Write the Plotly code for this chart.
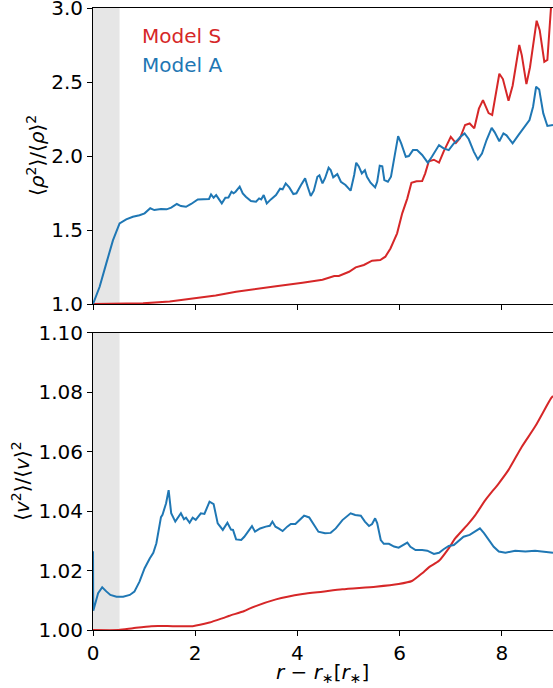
import plotly.graph_objects as go

# ---- density contrast <rho^2>/<rho>^2 ----
rho_s_x = [0, 0.5, 0.98, 1.5, 1.89, 2.4, 2.80, 3.2, 3.58, 4.10, 4.49, 4.72, 4.81, 5.01, 5.14,
           5.30, 5.46, 5.62, 5.72, 5.82, 5.89, 5.95, 6.05, 6.15, 6.23, 6.33, 6.44, 6.50, 6.57,
           6.67, 6.77, 6.86, 7.00, 7.10, 7.18, 7.28, 7.37, 7.46, 7.55, 7.63, 7.74, 7.81, 7.95,
           8.02, 8.13, 8.21, 8.34, 8.39, 8.48, 8.55, 8.68, 8.74, 8.83, 8.89, 8.96, 9.0]
rho_s_y = [1.0, 1.0, 1.005, 1.017, 1.034, 1.058, 1.083, 1.10, 1.12, 1.144, 1.164, 1.189, 1.19,
           1.218, 1.248, 1.264, 1.293, 1.297, 1.32, 1.376, 1.432, 1.478, 1.613, 1.714, 1.82,
           1.83, 1.831, 1.883, 1.965, 1.975, 1.956, 2.03, 2.13, 2.088, 2.12, 2.21, 2.22, 2.187,
           2.32, 2.378, 2.29, 2.277, 2.556, 2.52, 2.374, 2.475, 2.75, 2.68, 2.486, 2.60, 2.914,
           2.85, 2.637, 2.65, 3.0, 3.1]

rho_a_x = [0, 0.13, 0.26, 0.39, 0.52, 0.65, 0.78, 0.91, 1.01, 1.12, 1.20, 1.33, 1.44, 1.53,
           1.64, 1.72, 1.82, 1.92, 2.05, 2.18, 2.27, 2.31, 2.36, 2.41, 2.46, 2.52, 2.59, 2.65,
           2.71, 2.75, 2.79, 2.87, 2.93, 2.99, 3.09, 3.19, 3.25, 3.29, 3.34, 3.40, 3.48, 3.58,
           3.66, 3.71, 3.77, 3.84, 3.92, 3.98, 4.07, 4.15, 4.20, 4.26, 4.32, 4.39, 4.43, 4.49,
           4.54, 4.61, 4.65, 4.70, 4.78, 4.85, 4.94, 5.04, 5.11, 5.15, 5.20, 5.26, 5.32, 5.36,
           5.43, 5.52, 5.56, 5.61, 5.66, 5.70, 5.77, 5.83, 5.91, 5.97, 6.03, 6.12, 6.18, 6.26,
           6.34, 6.44, 6.55, 6.63, 6.77, 6.86, 6.96, 7.06, 7.14, 7.19, 7.27, 7.35, 7.45, 7.53,
           7.61, 7.70, 7.80, 7.86, 7.95, 8.03, 8.09, 8.21, 8.32, 8.46, 8.54, 8.61, 8.67, 8.73,
           8.81, 8.89, 8.97, 9.0]
rho_a_y = [1.0, 1.117, 1.275, 1.43, 1.545, 1.572, 1.59, 1.60, 1.613, 1.647, 1.635, 1.642, 1.64,
           1.651, 1.676, 1.662, 1.657, 1.676, 1.707, 1.707, 1.71, 1.741, 1.718, 1.736, 1.707,
           1.68, 1.718, 1.72, 1.759, 1.748, 1.759, 1.793, 1.748, 1.725, 1.696, 1.691, 1.714,
           1.707, 1.736, 1.68, 1.707, 1.736, 1.779, 1.775, 1.815, 1.788, 1.743, 1.748, 1.804,
           1.849, 1.793, 1.73, 1.766, 1.86, 1.87, 1.815, 1.85, 1.921, 1.906, 1.856, 1.878,
           1.826, 1.804, 1.766, 1.872, 1.955, 1.93, 1.883, 1.905, 1.86, 1.82, 1.788, 1.826,
           1.934, 1.93, 1.838, 1.826, 1.86, 2.018, 2.135, 2.085, 1.995, 2.0, 2.04, 2.04, 2.007,
           1.955, 1.995, 2.074, 2.052, 2.04, 2.085, 2.11, 2.13, 2.153, 2.115, 2.03, 1.977,
           2.017, 2.108, 2.19, 2.16, 2.10, 2.153, 2.14, 2.086, 2.14, 2.21, 2.243, 2.333, 2.468,
           2.45, 2.288, 2.203, 2.21, 2.21]

# ---- velocity contrast <v^2>/<v>^2 ----
v_s_x = [0, 0.5, 0.78, 1.14, 1.56, 1.95, 2.28, 2.54, 2.67, 2.96, 3.06, 3.58, 4.10, 4.49, 4.88,
         5.53, 5.98, 6.24, 6.44, 6.57, 6.77, 6.96, 7.09, 7.35, 7.48, 7.68, 7.94, 8.13, 8.39,
         8.65, 8.96, 9.0]
v_s_y = [1.0, 1.0, 1.0006, 1.0013, 1.0013, 1.0013, 1.0025, 1.0040, 1.0048, 1.0064, 1.0072,
         1.0103, 1.0121, 1.0129, 1.0137, 1.0146, 1.0155, 1.0165, 1.0191, 1.0211, 1.0233,
         1.0275, 1.0309, 1.0359, 1.0387, 1.0438, 1.0494, 1.0539, 1.0617, 1.0685, 1.078, 1.0788]

v_a_x = [0, 0.005, 0.10, 0.18, 0.26, 0.34, 0.46, 0.59, 0.72, 0.81, 0.91, 1.01, 1.11, 1.18,
         1.24, 1.29, 1.33, 1.36, 1.43, 1.48, 1.53, 1.61, 1.72, 1.78, 1.82, 1.89, 1.95, 2.01,
         2.11, 2.18, 2.28, 2.36, 2.44, 2.54, 2.63, 2.70, 2.74, 2.80, 2.90, 2.96, 3.04, 3.11,
         3.17, 3.27, 3.38, 3.46, 3.51, 3.57, 3.63, 3.71, 3.80, 3.87, 3.96, 4.05, 4.13, 4.23,
         4.33, 4.41, 4.54, 4.65, 4.75, 4.88, 5.04, 5.13, 5.24, 5.32, 5.40, 5.46, 5.52, 5.56,
         5.63, 5.69, 5.79, 5.89, 5.98, 6.07, 6.15, 6.21, 6.31, 6.44, 6.54, 6.67, 6.77, 6.86,
         6.96, 7.06, 7.16, 7.25, 7.37, 7.46, 7.57, 7.65, 7.74, 7.84, 7.94, 8.07, 8.26, 8.46,
         8.65, 8.81, 8.96, 9.0]
v_a_y = [1.0265, 1.0065, 1.0124, 1.0144, 1.013, 1.0118, 1.0112, 1.0112, 1.0118, 1.0129,
         1.0163, 1.0208, 1.0241, 1.026, 1.0292, 1.0337, 1.038, 1.0388, 1.0427, 1.0471, 1.0393,
         1.0365, 1.0393, 1.0373, 1.0378, 1.0361, 1.0378, 1.0371, 1.0393, 1.0391, 1.0432,
         1.0424, 1.0359, 1.0337, 1.0361, 1.0338, 1.0337, 1.0305, 1.0303, 1.0314, 1.0334,
         1.035, 1.0331, 1.0342, 1.0348, 1.0351, 1.0365, 1.0348, 1.0342, 1.0333, 1.0348,
         1.0357, 1.0357, 1.0373, 1.0385, 1.0379, 1.0354, 1.0331, 1.0326, 1.0327, 1.0342,
         1.037, 1.0393, 1.0387, 1.0385, 1.0365, 1.035, 1.0357, 1.0376, 1.036, 1.0303, 1.029,
         1.029, 1.0281, 1.0277, 1.0286, 1.0294, 1.028, 1.0269, 1.0269, 1.0267, 1.0256, 1.026,
         1.0272, 1.0283, 1.0286, 1.0301, 1.0314, 1.032, 1.0331, 1.0342, 1.0326, 1.0303, 1.028,
         1.0264, 1.026, 1.0267, 1.0264, 1.0267, 1.0264, 1.026, 1.026]

shade_x = [0, 0.52]          # excluded inner region
x_ticks = [0, 2, 4, 6, 8]
rho_ticks = [1.0, 1.5, 2.0, 2.5, 3.0]
v_ticks = [1.00, 1.02, 1.04, 1.06, 1.08, 1.10]

RED = "#d62728"
BLUE = "#1f77b4"
FONT = "DejaVu Sans"
FS = 20

fig = go.Figure()
fig.add_trace(go.Scatter(x=rho_s_x, y=rho_s_y, mode="lines", line=dict(color=RED, width=2),
                         xaxis="x", yaxis="y", showlegend=False))
fig.add_trace(go.Scatter(x=rho_a_x, y=rho_a_y, mode="lines", line=dict(color=BLUE, width=2),
                         xaxis="x", yaxis="y", showlegend=False))
fig.add_trace(go.Scatter(x=v_s_x, y=v_s_y, mode="lines",
                         line=dict(color=RED, width=2, shape="spline", smoothing=0.6),
                         xaxis="x2", yaxis="y2", showlegend=False))
fig.add_trace(go.Scatter(x=v_a_x, y=v_a_y, mode="lines", line=dict(color=BLUE, width=2),
                         xaxis="x2", yaxis="y2", showlegend=False))

for xr, yr in (("x", "y domain"), ("x2", "y2 domain")):
    fig.add_shape(type="rect", xref=xr, yref=yr, x0=shade_x[0], x1=shade_x[1], y0=0, y1=1,
                  fillcolor="rgba(128,128,128,0.2)", line_width=0, layer="below")

# series labels
fig.add_annotation(xref="x domain", yref="y domain", x=0.102, y=0.905, text="Model S",
                   showarrow=False, xanchor="left", yanchor="middle",
                   font=dict(color=RED, size=FS, family=FONT))
fig.add_annotation(xref="x domain", yref="y domain", x=0.102, y=0.806, text="Model A",
                   showarrow=False, xanchor="left", yanchor="middle",
                   font=dict(color=BLUE, size=FS, family=FONT))

# axis titles
fig.add_annotation(xref="paper", yref="paper", x=-0.124, y=0.7637, textangle=-90,
                   text="⟨<i>ρ</i><sup>2</sup>⟩/⟨<i>ρ</i>⟩<sup>2</sup>", showarrow=False,
                   xanchor="center", yanchor="middle", font=dict(size=FS, family=FONT))
fig.add_annotation(xref="paper", yref="paper", x=-0.157, y=0.2395, textangle=-90,
                   text="⟨<i>v</i><sup>2</sup>⟩/⟨<i>v</i>⟩<sup>2</sup>", showarrow=False,
                   xanchor="center", yanchor="middle", font=dict(size=FS, family=FONT))
fig.add_annotation(xref="paper", yref="paper", x=0.499, y=-0.069,
                   text="<i>r</i> − <i>r</i><sub>∗</sub>[<i>r</i><sub>∗</sub>]", showarrow=False,
                   xanchor="center", yanchor="middle", font=dict(size=FS, family=FONT))

axis_common = dict(showline=True, linecolor="black", linewidth=1, mirror=True,
                   ticks="outside", ticklen=5, tickwidth=1, tickcolor="black",
                   showgrid=False, zeroline=False, automargin=False,
                   ticklabeloverflow="allow",
                   tickfont=dict(size=FS, family=FONT, color="black"))

fig.update_layout(
    width=553, height=688,
    margin=dict(l=93, r=0, t=8, b=58),
    paper_bgcolor="white", plot_bgcolor="white",
    font=dict(family=FONT, size=FS, color="black"),
    xaxis=dict(domain=[0, 1], range=[0, 9], tickvals=x_ticks, showticklabels=False,
               anchor="y", **axis_common),
    yaxis=dict(domain=[0.524, 1], range=[1.0, 3.0], tickvals=rho_ticks, tickformat=".1f",
               anchor="x", **axis_common),
    xaxis2=dict(domain=[0, 1], range=[0, 9], tickvals=x_ticks, anchor="y2", matches="x",
                **axis_common),
    yaxis2=dict(domain=[0, 0.4775], range=[1.0, 1.1], tickvals=v_ticks, tickformat=".2f",
                anchor="x2", **axis_common),
)

fig.write_html("out.html")
